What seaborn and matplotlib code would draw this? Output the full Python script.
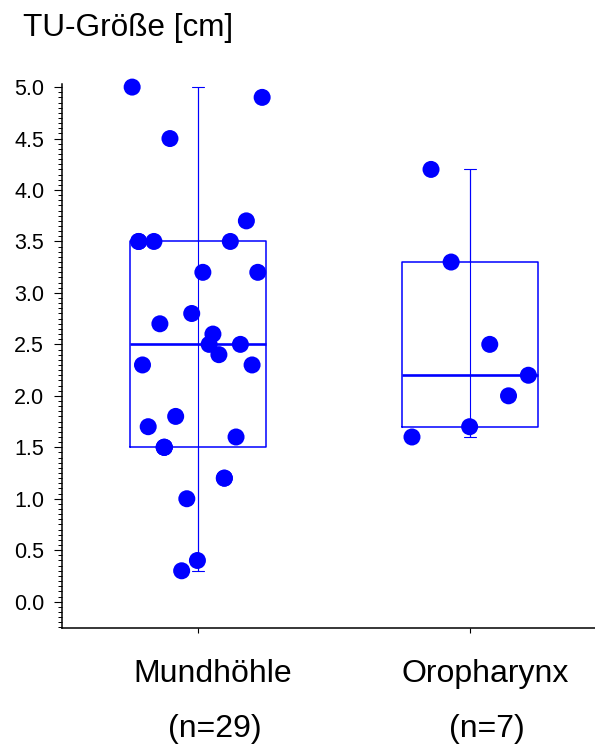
import numpy as np
import pandas as pd
import matplotlib
matplotlib.use("Agg")
import matplotlib.pyplot as plt
from matplotlib.ticker import MultipleLocator, FormatStrFormatter
import seaborn as sns

# Tumour size per site (cm)
groups = ["Mundhöhle", "Oropharynx"]
mundhoehle = [5.0, 4.9, 4.5, 3.7, 3.5, 3.5, 3.5, 3.2, 3.2, 2.8, 2.7, 2.6, 2.5,
              2.5, 2.4, 2.3, 2.3, 1.8, 1.7, 1.6, 1.5, 1.2, 1.0, 0.4, 0.3,
              1.2, 1.5, 1.5, 3.5]
oropharynx = [4.2, 3.3, 2.5, 2.2, 2.0, 1.7, 1.6]

# horizontal spread of the dots within each category (category units)
jitter_mund = [-0.242, 0.236, -0.103, 0.178, -0.218, -0.162, 0.119, 0.018, 0.220,
               -0.023, -0.140, 0.055, 0.041, 0.156, 0.077, -0.204, 0.199, -0.082,
               -0.183, 0.140, -0.124, 0.097, -0.041, -0.002, -0.060,
               0.097, -0.124, -0.124, -0.218]
jitter_oro = [-0.143, -0.069, 0.073, 0.215, 0.142, -0.001, -0.213]

values = [mundhoehle, oropharynx]
jitters = [jitter_mund, jitter_oro]

rows = []
for gi, (g, vals, jit) in enumerate(zip(groups, values, jitters)):
    for v, j in zip(vals, jit):
        rows.append({"group": g, "value": v, "pos": gi + j})
df = pd.DataFrame(rows)

sns.set_style("ticks")
plt.rcParams["font.family"] = ["Liberation Sans", "DejaVu Sans"]
plt.rcParams["text.color"] = "black"
plt.rcParams["xtick.color"] = "black"
plt.rcParams["ytick.color"] = "black"
plt.rcParams["axes.labelcolor"] = "black"

BLUE = "#0000ff"
fig = plt.figure(figsize=(5.95, 7.44), dpi=100)
ax = fig.add_axes([62 / 595, 116 / 744, 533 / 595, 544 / 744])

# box statistics (quartiles by the (n+1)p rule, whiskers to min/max)
stats = []
for vals in values:
    q1, med, q3 = np.percentile(vals, [25, 50, 75], method="weibull")
    stats.append(dict(med=med, q1=q1, q3=q3, whislo=min(vals), whishi=max(vals),
                      fliers=[], label=""))
positions = list(range(len(groups)))
ax.bxp(stats, positions=positions, widths=0.5, showfliers=False,
       manage_ticks=False, capwidths=0.045,
       boxprops=dict(color=BLUE, linewidth=1.1),
       medianprops=dict(color=BLUE, linewidth=1.9),
       whiskerprops=dict(color=BLUE, linewidth=0.8),
       capprops=dict(color=BLUE, linewidth=0.8))
ax.vlines(positions, [s["whislo"] for s in stats], [s["whishi"] for s in stats],
          color=BLUE, linewidth=0.8, zorder=2)

sns.scatterplot(data=df, x="pos", y="value", color=BLUE, s=150,
                edgecolor="none", linewidth=0, legend=False, zorder=4,
                clip_on=False, ax=ax)

ax.set_xlim(-0.5, 1.46)
ax.set_ylim(-0.256, 5.03)
ax.set_xlabel("")
ax.set_ylabel("")

ax.yaxis.set_major_locator(MultipleLocator(0.5))
ax.yaxis.set_minor_locator(MultipleLocator(0.05))
ax.yaxis.set_major_formatter(FormatStrFormatter("%.1f"))
ax.tick_params(axis="y", which="major", length=5.8, width=0.8, labelsize=15.5,
               pad=7, color="black", labelcolor="black")
ax.tick_params(axis="y", which="minor", length=3.0, width=0.7, color="black")
ax.set_xticks(positions)
ax.set_xticklabels([])
ax.tick_params(axis="x", which="major", length=3.6, width=0.8, color="black")

for side in ["top", "right"]:
    ax.spines[side].set_visible(False)
for side in ["left", "bottom"]:
    ax.spines[side].set_linewidth(1.1)
    ax.spines[side].set_color("black")

for gi, (g, vals) in enumerate(zip(groups, values)):
    ax.annotate(g, xy=(gi, 0), xycoords=("data", "axes fraction"),
                xytext=(15, -54), textcoords="offset pixels",
                ha="center", va="baseline", fontsize=23, color="black")
    ax.annotate(f"(n={len(vals)})", xy=(gi, 0), xycoords=("data", "axes fraction"),
                xytext=(17, -109), textcoords="offset pixels",
                ha="center", va="baseline", fontsize=23, color="black")

fig.text(23 / 595, 1 - 36 / 744, "TU-Größe [cm]", ha="left", va="baseline",
         fontsize=22.7, color="black")

fig.savefig("out.png", dpi=100)
